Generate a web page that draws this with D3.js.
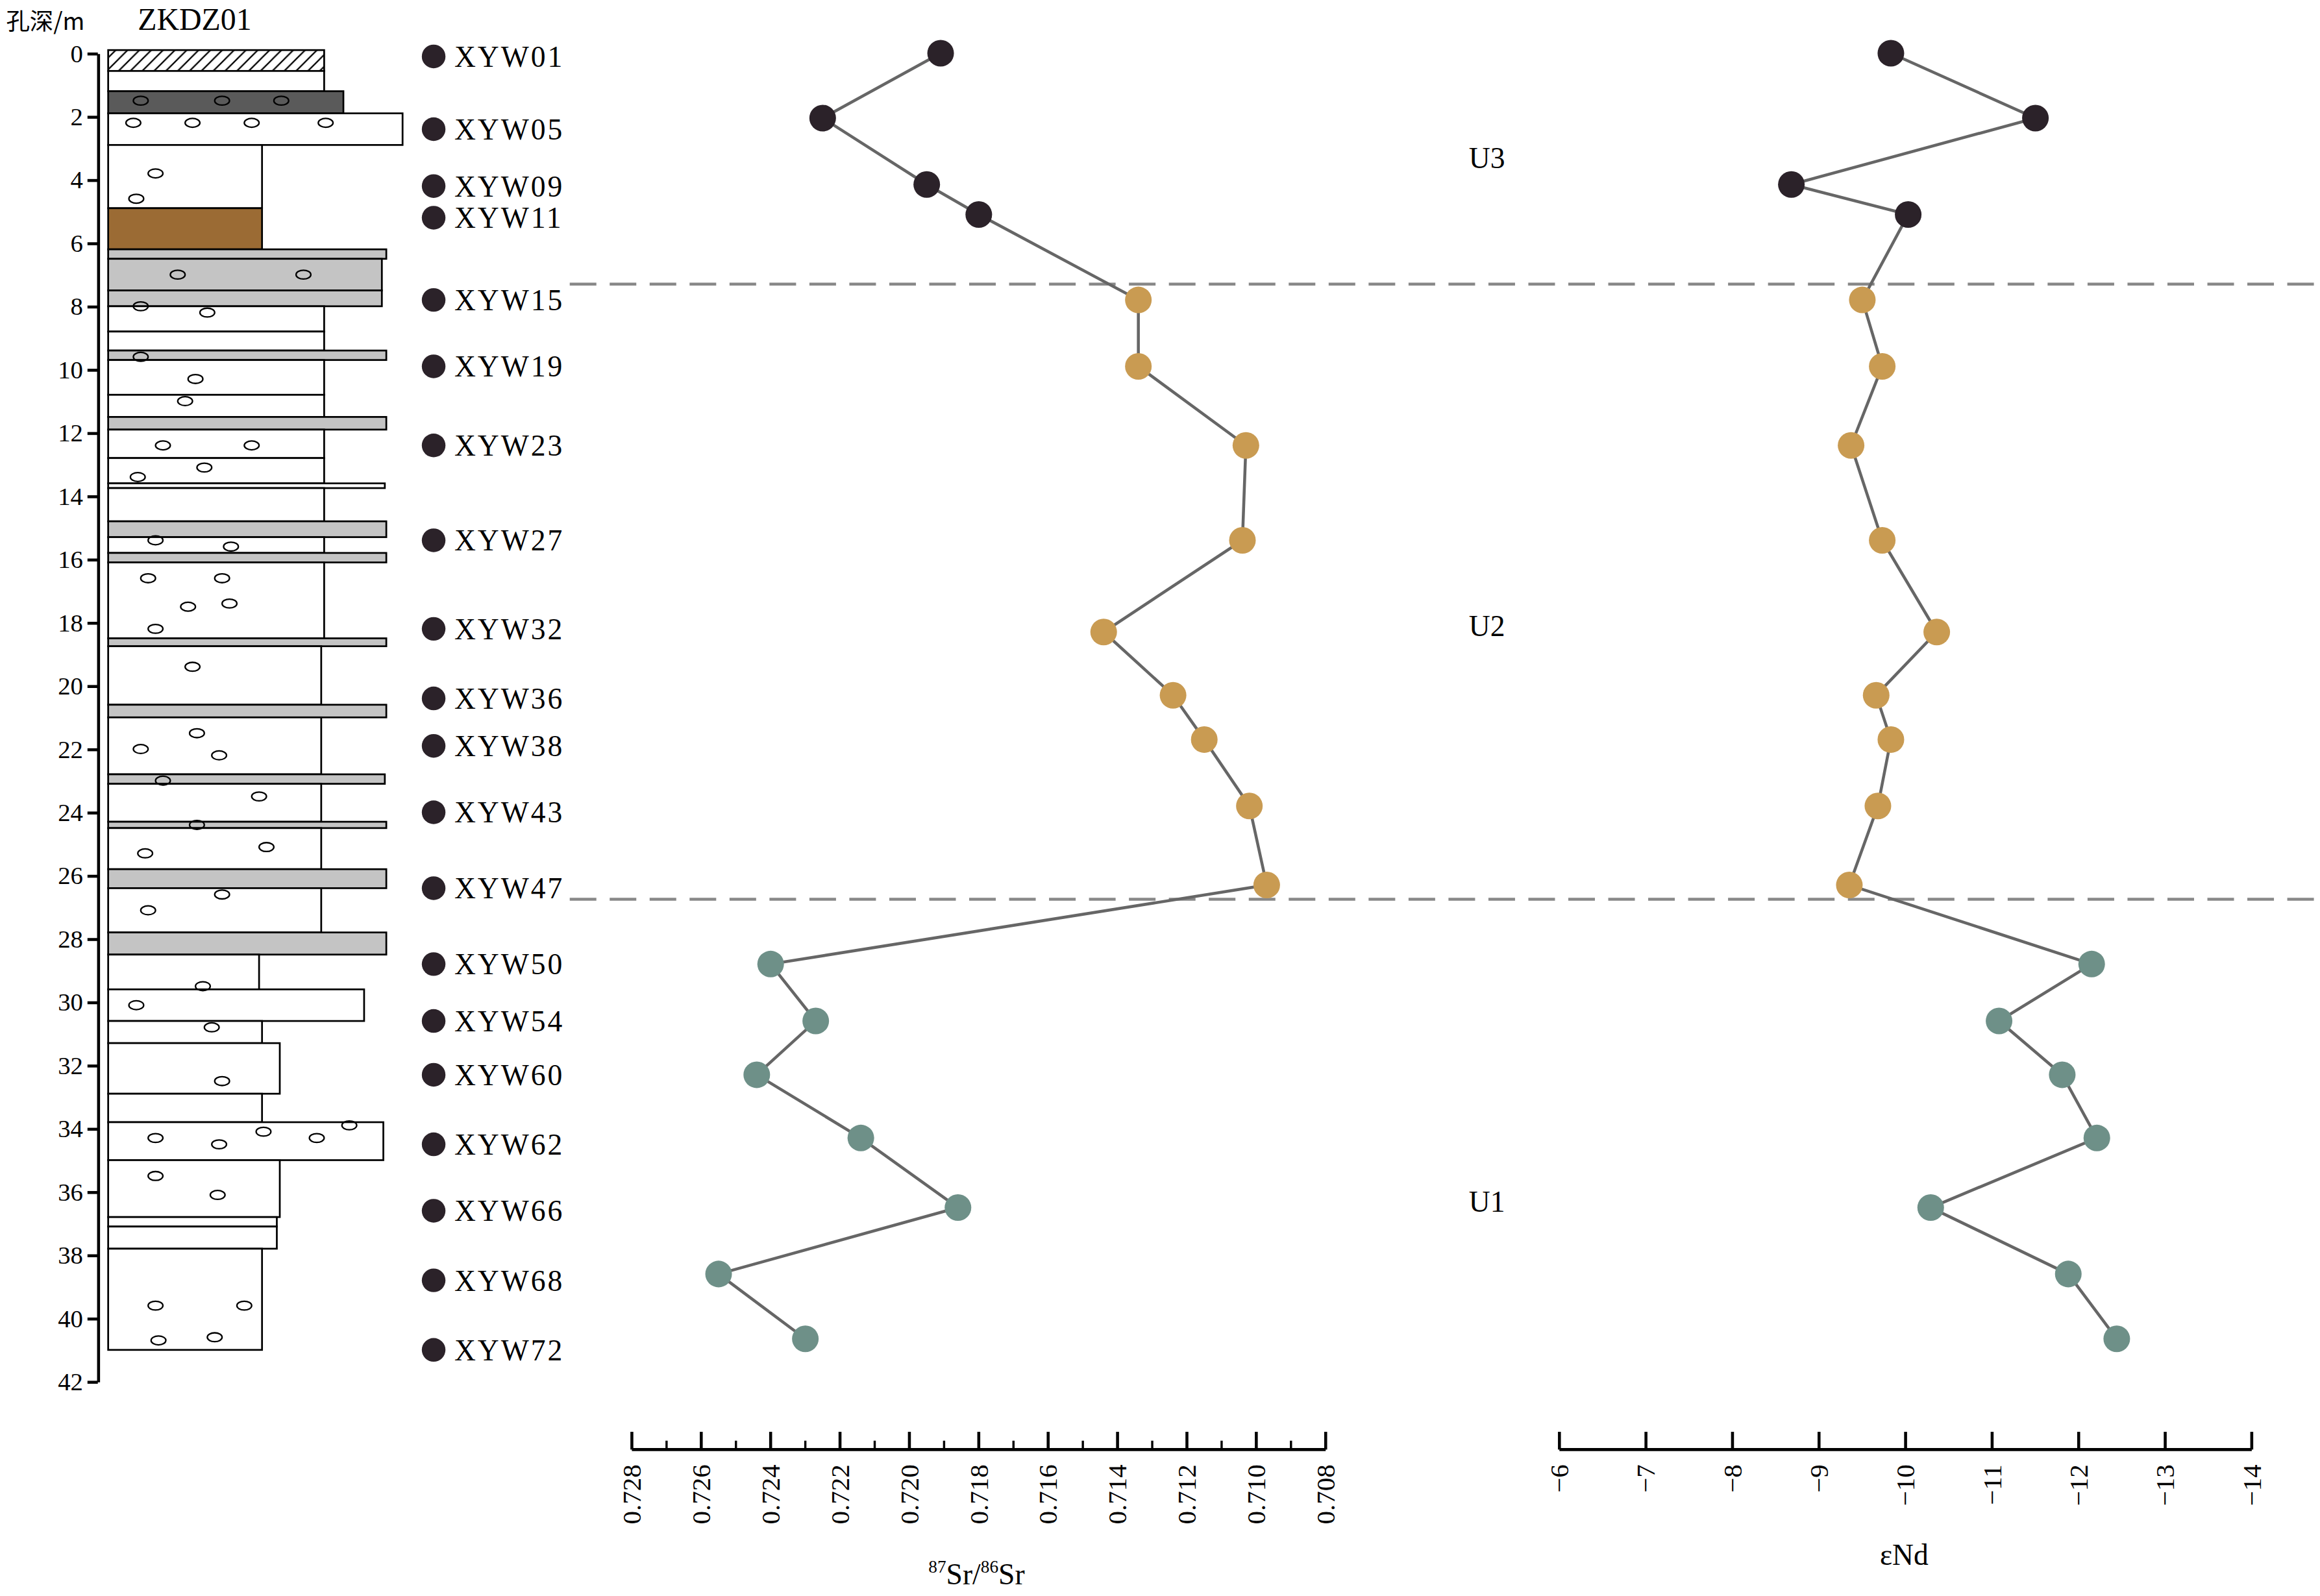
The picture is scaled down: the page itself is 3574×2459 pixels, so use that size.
<!DOCTYPE html>
<html><head><meta charset="utf-8">
<script src="https://cdn.jsdelivr.net/npm/d3@7"></script>
<style>body{margin:0;background:#fff}</style></head>
<body><svg id="c" width="3574" height="2459" viewBox="0 0 1568 1079"></svg>
<script>
const sampleNames=["XYW01","XYW05","XYW09","XYW11","XYW15","XYW19","XYW23","XYW27","XYW32","XYW36","XYW38","XYW43","XYW47","XYW50","XYW54","XYW60","XYW62","XYW66","XYW68","XYW72"];
const labelDepths=[0.1,2.4,4.2,5.2,7.8,9.9,12.4,15.4,18.2,20.4,21.9,24.0,26.4,28.8,30.6,32.3,34.5,36.6,38.8,41.0];
const pointDepths=[0.0,2.05,4.15,5.1,7.8,9.9,12.4,15.4,18.3,20.3,21.7,23.8,26.3,28.8,30.6,32.3,34.3,36.5,38.6,40.65];
const srValues=[0.7191,0.7225,0.7195,0.7180,0.7134,0.7134,0.7103,0.7104,0.7144,0.7124,0.7115,0.7102,0.7097,0.7240,0.7227,0.7244,0.7214,0.7186,0.7255,0.7230];
const ndValues=[-9.83,-11.50,-8.68,-10.03,-9.50,-9.73,-9.37,-9.73,-10.36,-9.66,-9.83,-9.68,-9.35,-12.15,-11.08,-11.81,-12.21,-10.29,-11.88,-12.44];
const units=["U3","U3","U3","U3","U2","U2","U2","U2","U2","U2","U2","U2","U2","U1","U1","U1","U1","U1","U1","U1"];
const unitLabels=[{t:"U3",d:3.3},{t:"U2",d:18.1},{t:"U1",d:36.3}];
const boundaries=[7.3,26.75];
const depthTicks=d3.range(0,43,2);
const srTicks=d3.range(0.728,0.7079,-0.002);
const ndTicks=d3.range(-6,-14.1,-1);
const layers=[[-0.1,0.56,219,"hatch"],[0.56,1.2,219,"w"],[1.2,1.9,232,"dark"],[1.9,2.9,272,"peb"],[2.9,4.9,177,"w"],[4.9,6.2,177,"brown"],[6.2,6.5,261,"g"],[6.5,7.5,258,"g"],[7.5,8.0,258,"g"],[8.0,8.8,219,"w"],[8.8,9.4,219,"w"],[9.4,9.7,261,"g"],[9.7,10.8,219,"w"],[10.8,11.5,219,"w"],[11.5,11.9,261,"g"],[11.9,12.8,219,"w"],[12.8,13.6,219,"w"],[13.6,13.75,260,"w"],[13.75,14.8,219,"w"],[14.8,15.3,261,"g"],[15.3,15.8,219,"w"],[15.8,16.1,261,"g"],[16.1,18.5,219,"w"],[18.5,18.75,261,"g"],[18.75,20.6,217,"w"],[20.6,21.0,261,"g"],[21.0,22.8,217,"w"],[22.8,23.1,260,"g"],[23.1,24.3,217,"w"],[24.3,24.5,261,"g"],[24.5,25.8,217,"w"],[25.8,26.4,261,"g"],[26.4,27.8,217,"w"],[27.8,28.5,261,"g"],[28.5,29.6,175,"w"],[29.6,30.6,246,"w"],[30.6,31.3,177,"w"],[31.3,32.9,189,"w"],[32.9,33.8,177,"w"],[33.8,35.0,259,"w"],[35.0,36.8,189,"w"],[36.8,37.1,187,"w"],[37.1,37.8,187,"w"],[37.8,41.0,177,"w"]];
const pebbles=[[1.5,95],[1.5,150],[1.5,190],[2.2,90],[2.2,130],[2.2,170],[2.2,220],[3.8,105],[4.6,92],[7.0,120],[7.0,205],[8.0,95],[8.2,140],[9.6,95],[10.3,132],[11.0,125],[12.4,110],[12.4,170],[13.1,138],[13.4,93],[15.4,105],[15.6,156],[16.6,100],[16.6,150],[17.4,155],[17.5,127],[18.2,105],[19.4,130],[21.5,133],[22.0,95],[22.2,148],[23.0,110],[23.5,175],[24.4,133],[25.3,98],[25.1,180],[26.6,150],[27.1,100],[29.5,137],[30.1,92],[30.8,143],[32.5,150],[34.3,105],[34.5,148],[34.1,178],[34.3,214],[33.9,236],[35.5,105],[36.1,147],[39.6,105],[39.6,165],[40.7,107],[40.6,145]];

const svg=d3.select("#c");
const y=d3.scaleLinear().domain([0,42]).range([36,934]);
const xs=d3.scaleLinear().domain([0.728,0.708]).range([427,896]);
const xn=d3.scaleLinear().domain([-6,-14]).range([1054,1522]);
const col={U3:"#2b2229",U2:"#c99b52",U1:"#6e9088"};
const serif="Liberation Serif, DejaVu Serif, serif";

const defs=svg.append("defs");
const p=defs.append("pattern").attr("id","hatch").attr("patternUnits","userSpaceOnUse").attr("width",8).attr("height",8);
p.append("path").attr("d","M0,8L8,0M-2,2L2,-2M6,10L10,6").attr("stroke","#000").attr("stroke-width",1);
const fills={hatch:"url(#hatch)",w:"#fff",dark:"#5a5a5a",peb:"#fff",brown:"#9b6b34",g:"#c4c4c4"};
svg.append("g").selectAll("rect").data(layers).join("rect")
 .attr("x",73).attr("y",d=>y(d[0])).attr("width",d=>d[2]-73).attr("height",d=>y(d[1])-y(d[0]))
 .attr("fill",d=>fills[d[3]]).attr("stroke","#000").attr("stroke-width",1.2);
svg.append("g").selectAll("ellipse").data(pebbles).join("ellipse")
 .attr("cx",d=>d[1]).attr("cy",d=>y(d[0])).attr("rx",5).attr("ry",3)
 .attr("fill","none").attr("stroke","#000").attr("stroke-width",1);

const ga=svg.append("g").attr("transform","translate(66,0)").call(d3.axisLeft(y).tickValues(depthTicks).tickSize(7).tickSizeOuter(0));
ga.selectAll("text").attr("font-family",serif).attr("font-size",17).attr("fill","#000");
ga.selectAll("line,path").attr("stroke","#000").attr("stroke-width",2);
svg.append("text").attr("x",4).attr("y",20).attr("font-family","Noto Sans CJK SC").attr("font-size",16).text("孔深/m");
svg.append("text").attr("x",93).attr("y",20).attr("font-family",serif).attr("font-size",21).text("ZKDZ01");

svg.append("g").selectAll("circle").data(labelDepths).join("circle").attr("cx",293).attr("cy",d=>y(d)).attr("r",8).attr("fill","#2b2229");
svg.append("g").selectAll("text").data(sampleNames).join("text").attr("x",307).attr("y",(d,i)=>y(labelDepths[i])+7)
 .attr("font-family",serif).attr("font-size",20).attr("letter-spacing",1.3).text(d=>d);

svg.append("g").selectAll("line").data(boundaries).join("line").attr("x1",385).attr("x2",1568)
 .attr("y1",d=>y(d)).attr("y2",d=>y(d)).attr("stroke","#888").attr("stroke-width",2).attr("stroke-dasharray","18,9");
svg.append("g").selectAll("text").data(unitLabels).join("text").attr("x",1005).attr("y",d=>y(d.d)+7).attr("text-anchor","middle")
 .attr("font-family",serif).attr("font-size",20).text(d=>d.t);

function series(x,vals){
  const line=d3.line().x((d,i)=>x(vals[i])).y((d,i)=>y(pointDepths[i]));
  svg.append("path").datum(vals).attr("d",line).attr("fill","none").attr("stroke","#666").attr("stroke-width",2);
  svg.append("g").selectAll("circle").data(vals).join("circle").attr("cx",d=>x(d)).attr("cy",(d,i)=>y(pointDepths[i])).attr("r",9).attr("fill",(d,i)=>col[units[i]]);
}
series(xs,srValues); series(xn,ndValues);

function bottomAxis(x,ticks,minor,fmt){
  const g=svg.append("g").attr("transform","translate(0,980)");
  g.append("line").attr("x1",x.range()[0]).attr("x2",x.range()[1]).attr("stroke","#000").attr("stroke-width",2);
  g.selectAll("line.mn").data(minor).join("line").attr("class","mn").attr("x1",d=>x(d)).attr("x2",d=>x(d)).attr("y1",0).attr("y2",-6).attr("stroke","#000").attr("stroke-width",1.5);
  g.selectAll("line.mj").data(ticks).join("line").attr("class","mj").attr("x1",d=>x(d)).attr("x2",d=>x(d)).attr("y1",0).attr("y2",-12).attr("stroke","#000").attr("stroke-width",2);
  g.selectAll("text").data(ticks).join("text").attr("transform",d=>`translate(${x(d)+6},${10}) rotate(-90)`).attr("text-anchor","end")
   .attr("font-family",serif).attr("font-size",18).text(fmt);
}
bottomAxis(xs,srTicks,d3.range(0.727,0.708,-0.002),d=>d.toFixed(3));
bottomAxis(xn,ndTicks,[],d=>String(d).replace("-","−"));
const t=svg.append("text").attr("x",660).attr("y",1071).attr("text-anchor","middle").attr("font-family",serif).attr("font-size",20);
t.append("tspan").attr("font-size",12).attr("dy",-8).text("87");t.append("tspan").attr("dy",8).text("Sr/");
t.append("tspan").attr("font-size",12).attr("dy",-8).text("86");t.append("tspan").attr("dy",8).text("Sr");
svg.append("text").attr("x",1287).attr("y",1058).attr("text-anchor","middle").attr("font-family",serif).attr("font-size",20).text("εNd");
</script></body></html>
